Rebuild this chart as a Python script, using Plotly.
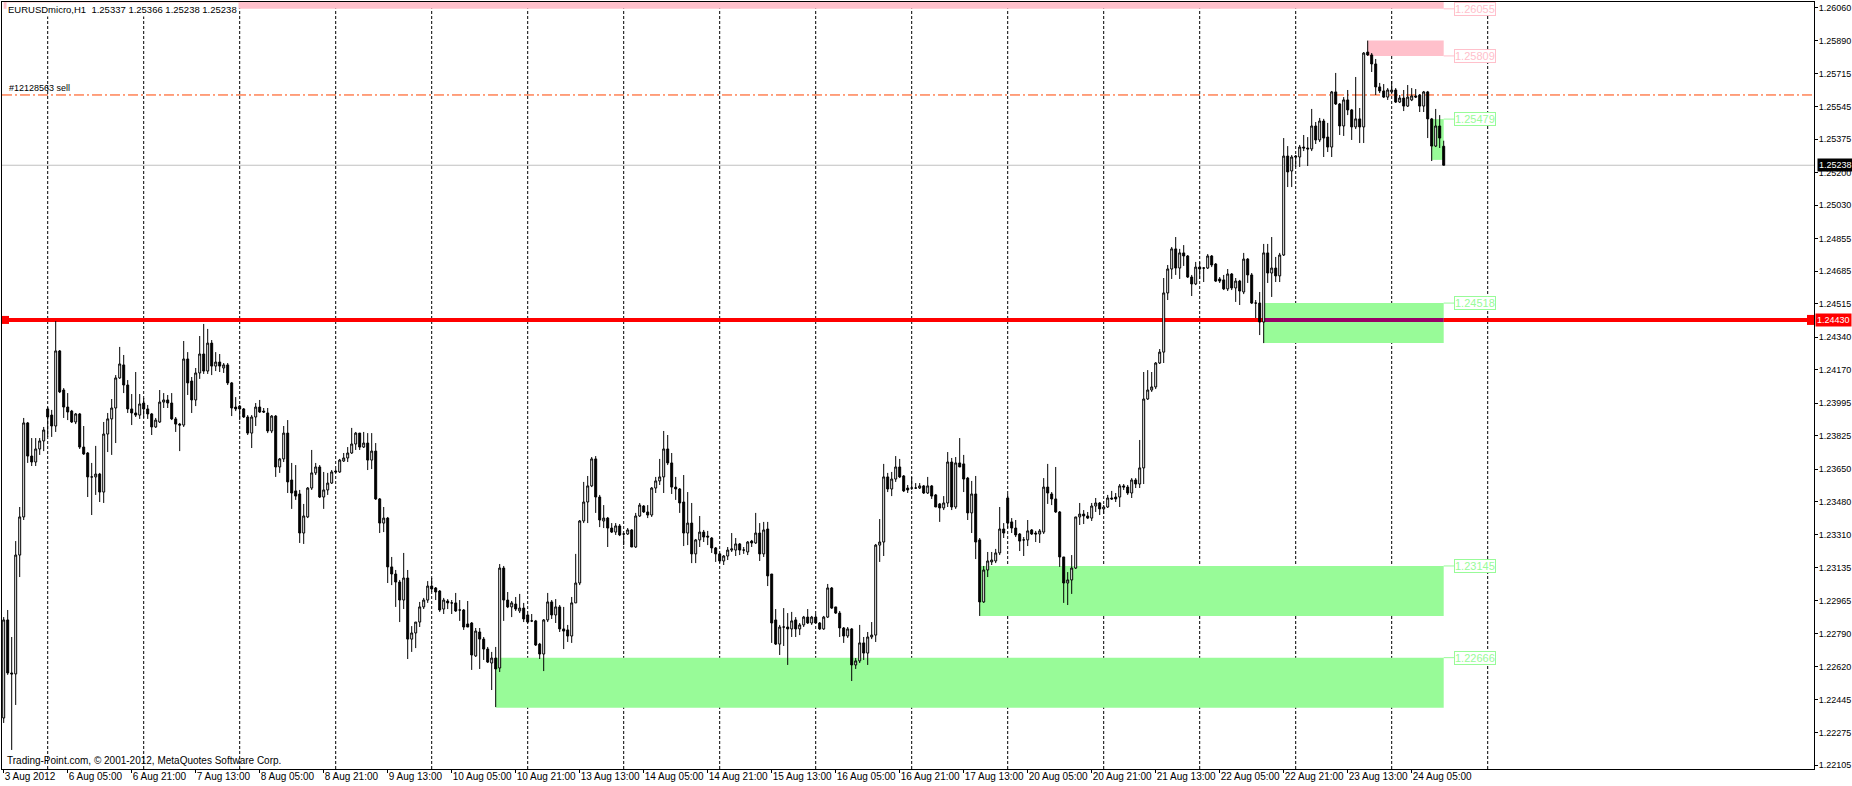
import datetime as dt
import plotly.graph_objects as go

# ---------------- data (prices in points, 1 point = 0.00001) ----------------
open_pts = [
    122351, 122863, 122586, 122581, 123202, 123401, 123892, 123719, 123688, 123756,
    123798, 123965, 123933, 123876, 124268, 124064, 123975, 123954, 123897, 123939,
    123766, 123735, 123610, 123610, 123625, 123531, 123834, 123913, 123970, 124127,
    124195, 124090, 123965, 123944, 123933, 123996, 123965, 123939, 123871, 123897,
    124001, 124012, 123996, 123913, 123886, 123881, 124226, 124111, 124012, 124153,
    124252, 124163, 124309, 124189, 124210, 124179, 124195, 124101, 123975, 123980,
    123965, 123923, 123839, 123923, 123975, 123954, 123944, 123850, 123928, 123662,
    123704, 123839, 123594, 123537, 123521, 123317, 123401, 123552, 123631, 123662,
    123505, 123542, 123578, 123641, 123636, 123693, 123709, 123735, 123782, 123839,
    123766, 123787, 123698, 123745, 123495, 123369, 123395, 123140, 123103, 123061,
    122967, 123082, 122763, 122795, 122852, 122931, 122967, 123040, 123030, 123014,
    122920, 122962, 122952, 122952, 122915, 122915, 122842, 122847, 122675, 122800,
    122763, 122711, 122638, 122664, 122612, 123134, 122967, 122931, 122946, 122910,
    122925, 122889, 122858, 122858, 122737, 122685, 122863, 122957, 122889, 122931,
    122816, 122811, 122779, 122952, 123056, 123380, 123479, 123563, 123704, 123505,
    123380, 123395, 123343, 123322, 123354, 123312, 123312, 123333, 123244, 123406,
    123458, 123427, 123411, 123552, 123589, 123610, 123756, 123683, 123557, 123547,
    123479, 123317, 123369, 123208, 123281, 123322, 123301, 123291, 123239, 123208,
    123171, 123197, 123228, 123228, 123260, 123228, 123218, 123275, 123265, 123317,
    123208, 123338, 123103, 122863, 122737, 122826, 122826, 122816, 122863, 122816,
    122837, 122878, 122847, 122878, 122847, 122816, 122878, 123030, 122931, 122899,
    122821, 122779, 122816, 122628, 122649, 122743, 122690, 122774, 122784, 123254,
    123270, 123610, 123547, 123599, 123662, 123615, 123552, 123552, 123552, 123552,
    123563, 123526, 123563, 123516, 123469, 123448, 123474, 123688, 123453, 123683,
    123678, 123604, 123422, 123521, 123281, 122957, 123124, 123166, 123171, 123213,
    123338, 123500, 123375, 123343, 123312, 123281, 123281, 123333, 123317, 123312,
    123322, 123557, 123521, 123495, 123427, 123192, 123056, 123072, 123134, 123401,
    123416, 123406, 123395, 123458, 123474, 123443, 123453, 123500, 123505, 123505,
    123563, 123557, 123526, 123594, 123573, 123657, 124017, 124064, 124080, 124205,
    124262, 124571, 124696, 124801, 124701, 124780, 124764, 124654, 124618, 124706,
    124701, 124701, 124764, 124722, 124644, 124639, 124592, 124670, 124597, 124633,
    124576, 124748, 124665, 124518, 124518, 124419, 124780, 124675, 124701, 124660,
    124769, 125286, 125208, 125286, 125281, 125333, 125328, 125323, 125443, 125370,
    125469, 125385, 125333, 125621, 125558, 125443, 125579, 125527, 125438, 125480,
    125438, 125829, 125814, 125767, 125647, 125626, 125594, 125621, 125631, 125568,
    125589, 125547, 125579, 125600, 125605, 125547, 125621, 125480, 125338, 125443,
    125337,
]
high_pts = [
    122878, 122915, 122774, 123275, 123453, 123918, 123897, 123813, 123813, 123813,
    123871, 123975, 123960, 124424, 124273, 124074, 124048, 123960, 123944, 123944,
    123876, 123740, 123683, 123772, 123631, 123897, 123944, 124017, 124142, 124289,
    124247, 124116, 124043, 124158, 124043, 124022, 123986, 123944, 123918, 124064,
    124048, 124038, 124048, 123923, 123892, 124320, 124262, 124132, 124179, 124346,
    124409, 124383, 124325, 124262, 124252, 124205, 124205, 124106, 124027, 123986,
    123970, 123933, 123933, 123996, 124012, 123970, 123970, 123933, 123933, 123709,
    123876, 123907, 123683, 123672, 123542, 123469, 123557, 123751, 123683, 123672,
    123636, 123631, 123646, 123651, 123704, 123735, 123766, 123866, 123845, 123839,
    123845, 123839, 123839, 123787, 123500, 123453, 123401, 123192, 123124, 123072,
    123213, 123124, 122831, 122852, 122957, 122978, 123066, 123082, 123035, 123019,
    122978, 122972, 122967, 123004, 122967, 122920, 122962, 122852, 122821, 122821,
    122774, 122722, 122696, 122722, 123155, 123145, 123009, 122962, 122983, 122999,
    122952, 122894, 122894, 122863, 122743, 122868, 123004, 122967, 122972, 122941,
    122931, 122837, 122983, 123208, 123385, 123584, 123615, 123714, 123719, 123516,
    123463, 123401, 123369, 123369, 123364, 123317, 123343, 123338, 123422, 123474,
    123463, 123463, 123557, 123610, 123704, 123850, 123829, 123735, 123610, 123552,
    123620, 123531, 123474, 123286, 123406, 123333, 123328, 123296, 123244, 123213,
    123202, 123244, 123317, 123291, 123265, 123244, 123275, 123281, 123422, 123369,
    123375, 123375, 123103, 122920, 122837, 122925, 122899, 122905, 122878, 122847,
    122884, 122920, 122884, 122894, 122852, 122884, 123051, 123035, 122931, 122910,
    122826, 122826, 122821, 122664, 122837, 122774, 122800, 122852, 123260, 123390,
    123678, 123631, 123636, 123719, 123704, 123620, 123568, 123610, 123578, 123578,
    123568, 123610, 123568, 123521, 123474, 123510, 123740, 123709, 123714, 123813,
    123725, 123610, 123589, 123615, 123291, 123145, 123218, 123218, 123234, 123453,
    123369, 123521, 123395, 123385, 123317, 123296, 123385, 123338, 123328, 123338,
    123604, 123678, 123531, 123662, 123432, 123192, 123113, 123202, 123401, 123474,
    123437, 123427, 123474, 123500, 123479, 123463, 123516, 123537, 123526, 123573,
    123573, 123568, 123604, 123604, 123803, 124158, 124168, 124158, 124210, 124278,
    124649, 124717, 124811, 124863, 124801, 124821, 124769, 124665, 124733, 124733,
    124706, 124774, 124769, 124727, 124654, 124665, 124696, 124675, 124649, 124639,
    124780, 124753, 124675, 124534, 124576, 124827, 124827, 124863, 124759, 124780,
    125380, 125338, 125291, 125291, 125344, 125396, 125385, 125532, 125464, 125485,
    125480, 125459, 125626, 125720, 125563, 125594, 125631, 125532, 125699, 125537,
    125829, 125889, 125824, 125793, 125668, 125662, 125641, 125678, 125641, 125605,
    125631, 125657, 125641, 125636, 125610, 125626, 125626, 125485, 125532, 125500,
    125366,
]
low_pts = [
    122325, 122576, 122184, 122419, 123087, 123385, 123683, 123667, 123667, 123725,
    123745, 123819, 123819, 123845, 124048, 123918, 123907, 123892, 123886, 123756,
    123725, 123505, 123411, 123516, 123479, 123474, 123740, 123725, 123787, 124122,
    124048, 123944, 123881, 123923, 123913, 123918, 123913, 123829, 123866, 123892,
    123970, 123970, 123907, 123845, 123745, 123871, 124038, 123944, 123980, 124122,
    124148, 124148, 124142, 124163, 124158, 124153, 124090, 123928, 123954, 123907,
    123918, 123829, 123761, 123876, 123944, 123944, 123839, 123839, 123610, 123631,
    123688, 123526, 123443, 123490, 123265, 123260, 123395, 123542, 123620, 123500,
    123443, 123516, 123573, 123631, 123631, 123688, 123688, 123730, 123751, 123751,
    123761, 123646, 123651, 123490, 123317, 123322, 123056, 123045, 122931, 122852,
    122920, 122659, 122696, 122716, 122826, 122920, 122952, 123009, 122967, 122905,
    122894, 122920, 122894, 122905, 122858, 122811, 122826, 122602, 122670, 122607,
    122654, 122638, 122497, 122408, 122591, 122858, 122925, 122878, 122910, 122899,
    122852, 122847, 122852, 122727, 122659, 122596, 122852, 122868, 122847, 122800,
    122711, 122748, 122743, 122952, 123045, 123369, 123369, 123557, 123422, 123348,
    123343, 123244, 123317, 123307, 123301, 123254, 123307, 123244, 123239, 123401,
    123422, 123395, 123401, 123526, 123568, 123526, 123672, 123521, 123490, 123422,
    123249, 123254, 123160, 123160, 123244, 123270, 123254, 123213, 123166, 123160,
    123150, 123176, 123218, 123197, 123202, 123208, 123202, 123244, 123260, 123171,
    123192, 123040, 122743, 122732, 122680, 122727, 122628, 122774, 122774, 122784,
    122826, 122842, 122837, 122847, 122811, 122811, 122873, 122920, 122894, 122774,
    122743, 122769, 122544, 122607, 122638, 122654, 122628, 122763, 122748, 123166,
    123197, 123531, 123510, 123584, 123604, 123531, 123526, 123542, 123547, 123547,
    123521, 123521, 123495, 123453, 123375, 123437, 123453, 123437, 123443, 123662,
    123531, 123385, 123317, 123181, 122884, 122952, 123087, 123150, 123160, 123202,
    123291, 123343, 123317, 123296, 123223, 123197, 123249, 123307, 123270, 123265,
    123312, 123469, 123463, 123422, 123140, 122952, 122941, 122999, 123129, 123359,
    123364, 123390, 123380, 123427, 123411, 123416, 123448, 123490, 123479, 123453,
    123542, 123516, 123500, 123552, 123552, 123573, 124012, 124054, 124069, 124200,
    124205, 124534, 124644, 124665, 124644, 124712, 124649, 124555, 124612, 124644,
    124628, 124696, 124706, 124628, 124623, 124586, 124581, 124586, 124524, 124508,
    124565, 124623, 124513, 124440, 124351, 124309, 124623, 124550, 124628, 124628,
    124764, 125124, 125124, 125229, 125229, 125312, 125234, 125312, 125349, 125359,
    125281, 125307, 125281, 125553, 125396, 125391, 125500, 125370, 125427, 125354,
    125354, 125809, 125725, 125605, 125615, 125589, 125579, 125615, 125563, 125563,
    125521, 125542, 125573, 125589, 125516, 125516, 125380, 125260, 125333, 125328,
    125238,
]
close_pts = [
    122863, 122586, 122581, 123202, 123401, 123892, 123719, 123688, 123756, 123798,
    123855, 123923, 123876, 124268, 124054, 123975, 123949, 123897, 123939, 123766,
    123730, 123610, 123610, 123625, 123531, 123834, 123913, 123970, 124127, 124200,
    124090, 123965, 123944, 123933, 123991, 123965, 123939, 123871, 123907, 124001,
    124012, 123996, 123913, 123886, 123881, 124226, 124101, 124012, 124153, 124252,
    124163, 124309, 124189, 124210, 124189, 124195, 124101, 123970, 123965, 123965,
    123923, 123839, 123923, 123975, 123949, 123949, 123850, 123928, 123662, 123704,
    123839, 123584, 123526, 123510, 123317, 123406, 123552, 123631, 123662, 123505,
    123542, 123578, 123636, 123636, 123698, 123709, 123735, 123782, 123839, 123766,
    123787, 123698, 123745, 123495, 123369, 123395, 123140, 123103, 123061, 122967,
    123082, 122763, 122795, 122852, 122931, 122967, 123040, 123025, 123009, 122915,
    122967, 122952, 122952, 122910, 122915, 122826, 122826, 122680, 122805, 122763,
    122711, 122643, 122664, 122607, 123134, 122967, 122931, 122952, 122920, 122925,
    122868, 122852, 122858, 122732, 122685, 122863, 122957, 122889, 122931, 122816,
    122805, 122779, 122952, 123056, 123380, 123479, 123563, 123704, 123505, 123385,
    123395, 123343, 123322, 123354, 123307, 123312, 123333, 123244, 123406, 123463,
    123427, 123411, 123552, 123589, 123610, 123756, 123683, 123557, 123547, 123474,
    123317, 123369, 123208, 123281, 123322, 123296, 123296, 123239, 123208, 123171,
    123197, 123228, 123234, 123260, 123228, 123228, 123270, 123265, 123317, 123208,
    123333, 123093, 122847, 122737, 122826, 122826, 122816, 122858, 122816, 122837,
    122878, 122847, 122878, 122847, 122816, 122878, 123030, 122925, 122899, 122821,
    122779, 122816, 122628, 122649, 122743, 122690, 122774, 122784, 123254, 123270,
    123610, 123547, 123599, 123662, 123610, 123537, 123542, 123552, 123552, 123563,
    123526, 123563, 123510, 123453, 123448, 123474, 123688, 123453, 123683, 123662,
    123599, 123422, 123521, 123270, 122957, 123124, 123171, 123176, 123213, 123338,
    123317, 123369, 123343, 123307, 123275, 123281, 123328, 123312, 123312, 123328,
    123557, 123526, 123495, 123427, 123192, 123056, 123072, 123134, 123401, 123416,
    123406, 123395, 123458, 123474, 123443, 123453, 123500, 123495, 123495, 123563,
    123557, 123526, 123594, 123573, 123657, 124017, 124064, 124080, 124205, 124262,
    124571, 124696, 124801, 124701, 124780, 124764, 124654, 124618, 124706, 124696,
    124701, 124764, 124717, 124633, 124633, 124592, 124670, 124597, 124633, 124581,
    124748, 124665, 124518, 124518, 124419, 124780, 124675, 124701, 124660, 124769,
    125286, 125203, 125281, 125281, 125333, 125328, 125323, 125443, 125370, 125469,
    125380, 125333, 125621, 125558, 125443, 125579, 125527, 125438, 125480, 125438,
    125824, 125814, 125767, 125647, 125626, 125594, 125631, 125631, 125568, 125589,
    125547, 125594, 125600, 125594, 125547, 125621, 125480, 125338, 125443, 125380,
    125238,
]

symbol = "EURUSDmicro,H1"
first_bar_time = dt.datetime(2012, 8, 3, 13, 0)
label_every = 16  # bars between time-axis labels

price_tick_labels = [
    "1.26060", "1.25890", "1.25715", "1.25545", "1.25375", "1.25200", "1.25030",
    "1.24855", "1.24685", "1.24515", "1.24340", "1.24170", "1.23995", "1.23825",
    "1.23650", "1.23480", "1.23310", "1.23135", "1.22965", "1.22790", "1.22620",
    "1.22445", "1.22275", "1.22105",
]

support_level = 1.24430
bid_level = 1.25238
order_level = 1.25605
order_text = "#12128563 sell"

# zones: start bar index, low price, high price, colour, labelled price
zone_start = [0, 341, 357, 315, 244, 123]
zone_low = [1.26055, 1.25809, 1.25266, 1.24309, 1.22884, 1.22404]
zone_high = [1.26110, 1.25889, 1.25479, 1.24518, 1.23145, 1.22666]
zone_color = ["#FFC0CB", "#FFC0CB", "#98FB98", "#98FB98", "#98FB98", "#98FB98"]
zone_label = [1.26055, 1.25809, 1.25479, 1.24518, 1.23145, 1.22666]

copyright_text = "Trading-Point.com, © 2001-2012, MetaQuotes Software Corp."

# ---------------- derived ----------------
o = [v / 1e5 for v in open_pts]
h = [v / 1e5 for v in high_pts]
l = [v / 1e5 for v in low_pts]
c = [v / 1e5 for v in close_pts]
n = len(c)
idx = list(range(n))

times = []
t = first_bar_time
while len(times) < n:
    if t.weekday() < 5:
        times.append(t)
    t += dt.timedelta(hours=1)

label_idx = list(range(0, n, label_every))
label_txt = []
for k in label_idx:
    tt = times[k]
    if k == 0:
        label_txt.append(f"{tt.day} {tt:%b} {tt.year}")
    else:
        label_txt.append(f"{tt.day} {tt:%b} {tt:%H:%M}")

day_idx = [i for i in idx if times[i].hour == 0]
day_idx.append(day_idx[-1] + 24)

last = n - 1
FONT = "Liberation Sans, Arial, sans-serif"

fig = go.Figure()
fig.add_trace(go.Candlestick(
    x=idx, open=o, high=h, low=l, close=c,
    increasing=dict(line=dict(color="black", width=1), fillcolor="white"),
    decreasing=dict(line=dict(color="black", width=1), fillcolor="black"),
    whiskerwidth=0, hoverinfo="skip", showlegend=False,
))

shapes = []
for s, lo, hi, col in zip(zone_start, zone_low, zone_high, zone_color):
    shapes.append(dict(type="rect", xref="x", yref="y", x0=s, x1=last, y0=lo, y1=hi,
                       fillcolor=col, line=dict(width=0), layer="below"))
for d in day_idx:
    shapes.append(dict(type="line", xref="x", yref="paper", x0=d, x1=d, y0=0, y1=1,
                       line=dict(color="black", width=1, dash="3px,2px"), layer="below"))
shapes.append(dict(type="line", xref="paper", yref="y", x0=0, x1=1, y0=bid_level, y1=bid_level,
                   line=dict(color="#C0C0C0", width=1), layer="below"))
shapes.append(dict(type="line", xref="paper", yref="y", x0=0, x1=1, y0=order_level, y1=order_level,
                   line=dict(color="#FF4500", width=1, dash="10px,3px,2px,3px"), layer="below"))
shapes.append(dict(type="line", xref="paper", yref="y", x0=0, x1=1, y0=support_level, y1=support_level,
                   line=dict(color="#FF0000", width=4), layer="below"))
shapes.append(dict(type="line", xref="x", yref="y", x0=zone_start[3], x1=last,
                   y0=support_level, y1=support_level,
                   line=dict(color="#990066", width=4), layer="below"))
# end squares of the support line
shapes.append(dict(type="rect", xref="paper", yref="y", xsizemode="pixel", ysizemode="pixel",
                   xanchor=0, yanchor=support_level, x0=0, x1=7, y0=-4, y1=4,
                   fillcolor="#FF0000", line=dict(width=0)))
shapes.append(dict(type="rect", xref="paper", yref="y", xsizemode="pixel", ysizemode="pixel",
                   xanchor=1, yanchor=support_level, x0=-7, x1=0, y0=-5, y1=5,
                   fillcolor="#FF0000", line=dict(width=0)))

ann = []
ann.append(dict(xref="paper", yref="paper", x=0, y=1, xanchor="left", yanchor="top",
                xshift=4, yshift=0, showarrow=False, bgcolor="white", borderpad=1,
                text=f"{symbol}\u00a0\u00a0{o[-1]:.5f} {h[-1]:.5f} {l[-1]:.5f} {c[-1]:.5f}",
                font=dict(family=FONT, size=9.5, color="black")))
ann.append(dict(xref="paper", yref="y", x=0, y=order_level, xanchor="left", yanchor="bottom",
                xshift=5, yshift=0, showarrow=False, text=order_text,
                font=dict(family=FONT, size=9, color="black")))
ann.append(dict(xref="paper", yref="paper", x=0, y=0, xanchor="left", yanchor="bottom",
                xshift=3, yshift=1, showarrow=False, text=copyright_text,
                font=dict(family=FONT, size=10, color="black")))
for lv, col in zip(zone_label, zone_color):
    ann.append(dict(xref="x", yref="y", x=last, y=lv, text=f"{lv:.5f}",
                    showarrow=True, arrowhead=0, arrowwidth=1, arrowcolor=col, ax=31, ay=0,
                    bgcolor="white", bordercolor=col, borderwidth=1, borderpad=0,
                    font=dict(family=FONT, size=11, color=col)))
ann.append(dict(xref="paper", yref="y", x=1, y=support_level, xanchor="left", yanchor="middle",
                xshift=1, showarrow=False, text=f"{support_level:.5f}", bgcolor="#FF0000",
                borderpad=1, font=dict(family=FONT, size=9, color="white")))
ann.append(dict(xref="paper", yref="y", x=1, y=bid_level, xanchor="left", yanchor="middle",
                xshift=3, showarrow=False, text=f"{bid_level:.5f}", bgcolor="black",
                borderpad=1, font=dict(family=FONT, size=9, color="white")))

fig.update_layout(
    width=1852, height=786,
    margin=dict(l=2, r=38, t=2, b=17, autoexpand=False),
    paper_bgcolor="white", plot_bgcolor="white",
    showlegend=False, hovermode=False,
    shapes=shapes, annotations=ann,
    font=dict(family=FONT, size=10, color="black"),
    xaxis=dict(range=[-0.425, 452.575], rangeslider=dict(visible=False), automargin=False,
               showgrid=False, zeroline=False, showline=True, linecolor="black",
               linewidth=1, mirror=True, ticks="outside", ticklen=3, tickcolor="black",
               tickangle=0, ticklabelstandoff=-2, ticklabeloverflow="allow",
               tickvals=label_idx, ticktext=label_txt, ticklabelposition="outside right",
               tickfont=dict(family=FONT, size=10, color="black")),
    yaxis=dict(side="right", range=[1.220845, 1.260906], showgrid=False, zeroline=False,
               automargin=False, ticklabelstandoff=-1, ticklabeloverflow="allow",
               showline=True, linecolor="black", linewidth=1, mirror=True,
               ticks="outside", ticklen=3, tickcolor="black",
               tickvals=[float(s) for s in price_tick_labels], ticktext=price_tick_labels,
               tickfont=dict(family=FONT, size=9, color="black")),
)

fig.write_html(
    "out.html",
    config={"displayModeBar": False, "staticPlot": True},
    post_script="document.body.style.margin='0';document.body.style.overflow='hidden';",
)
